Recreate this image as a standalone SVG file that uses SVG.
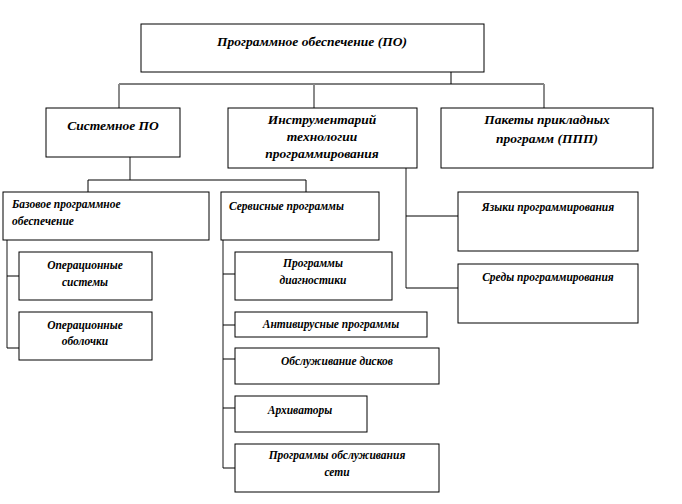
<svg xmlns="http://www.w3.org/2000/svg" width="682" height="504" viewBox="0 0 682 504">
<style>
rect{fill:#fff;stroke:#000;stroke-width:1}
text{font-family:"Liberation Serif",serif;font-weight:bold;font-style:italic;font-size:11.5px;fill:#000}
.c{text-anchor:middle}
.big{font-size:13.5px}
.v{stroke:#8a8a8a;stroke-width:2;fill:none}
.h{stroke:#000;stroke-width:1;fill:none}
</style>
<rect width="682" height="504" style="stroke:none"/>
<g id="connectors">
<path class="h" d="M451 72V84M119 84H544"/>
<path class="v" d="M119 84V108M314 84V108M544 84V108"/>
<path class="v" d="M130 157V180M406 168V288"/>
<path class="h" d="M88 180H306M88 180V192M306 180V192"/>
<path class="v" d="M7 240V348M223 240V468"/>
<path class="h" d="M7 276H19M7 348H19"/>
<path class="h" d="M223 274H235M223 325H235M223 359H235M223 408H235M223 468H235"/>
<path class="h" d="M406 216H458M406 288H458"/>
</g>
<g id="n-top"><rect x="141" y="24" width="343" height="48"/><text class="c big" x="312" y="46">Программное обеспечение (ПО)</text></g>
<g id="n-sys"><rect x="46" y="108" width="134" height="49"/><text class="c big" x="113" y="130">Системное ПО</text></g>
<g id="n-instr"><rect x="228" y="108" width="189" height="60"/><text class="c big" x="322" y="124">Инструментарий</text><text class="c big" x="322" y="141">технологии</text><text class="c big" x="322" y="158">программирования</text></g>
<g id="n-ppp"><rect x="441" y="108" width="212" height="60"/><text class="c big" x="547" y="124">Пакеты прикладных</text><text class="c big" x="547" y="143">программ (ППП)</text></g>
<g id="n-base"><rect x="3" y="192" width="206" height="48"/><text x="12" y="208">Базовое программное</text><text x="12" y="225">обеспечение</text></g>
<g id="n-serv"><rect x="221" y="192" width="158" height="48"/><text x="229" y="210">Сервисные программы</text></g>
<g id="n-lang"><rect x="458" y="192" width="180" height="59"/><text class="c" x="548" y="211">Языки программирования</text></g>
<g id="n-env"><rect x="458" y="264" width="180" height="59"/><text class="c" x="548" y="281">Среды программирования</text></g>
<g id="n-os"><rect x="19" y="252" width="133" height="48"/><text class="c" x="85" y="269">Операционные</text><text class="c" x="85" y="286">системы</text></g>
<g id="n-shell"><rect x="19" y="312" width="133" height="48"/><text class="c" x="85" y="329">Операционные</text><text class="c" x="85" y="345">оболочки</text></g>
<g id="n-diag"><rect x="235" y="252" width="157" height="48"/><text class="c" x="313" y="267">Программы</text><text class="c" x="313" y="284">диагностики</text></g>
<g id="n-av"><rect x="235" y="312" width="192" height="25"/><text class="c" x="331" y="328">Антивирусные программы</text></g>
<g id="n-disk"><rect x="235" y="348" width="204" height="36"/><text class="c" x="337" y="365">Обслуживание  дисков</text></g>
<g id="n-arch"><rect x="235" y="396" width="132" height="36"/><text class="c" x="300" y="414">Архиваторы</text></g>
<g id="n-net"><rect x="235" y="444" width="204" height="48"/><text class="c" x="337" y="459">Программы обслуживания</text><text class="c" x="337" y="476">сети</text></g>
</svg>
